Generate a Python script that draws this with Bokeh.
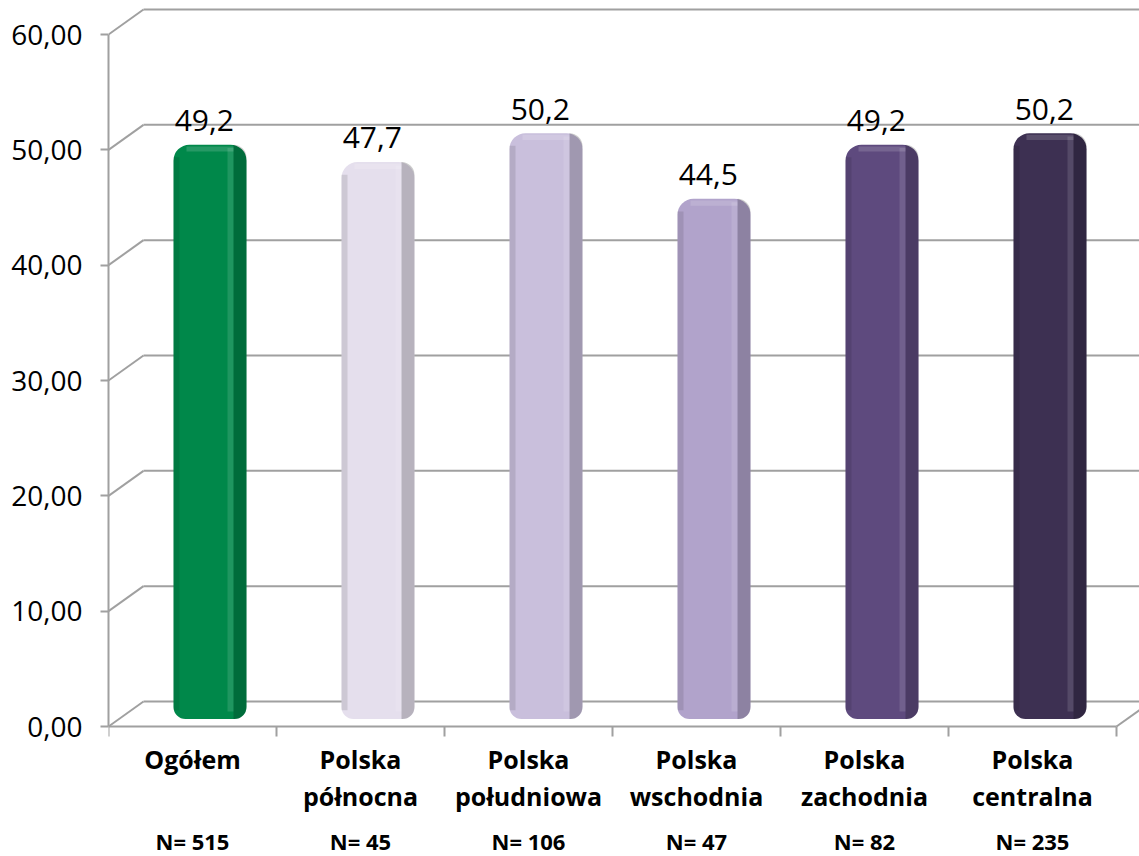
from bokeh.plotting import figure
from bokeh.models import Range1d, LinearAxis, FixedTicker, ColumnDataSource
from bokeh.core.properties import value
from bokeh.embed import file_html
from bokeh.resources import INLINE

# ---------------- data ----------------
categories = ["Ogółem", "Polska północna", "Polska południowa",
              "Polska wschodnia", "Polska zachodnia", "Polska centralna"]
category_labels = ["Ogółem", "Polska\npółnocna", "Polska\npołudniowa",
                   "Polska\nwschodnia", "Polska\nzachodnia", "Polska\ncentralna"]
sample_sizes = ["N= 515", "N= 45", "N= 106", "N= 47", "N= 82", "N= 235"]
values = [49.2, 47.7, 50.2, 44.5, 49.2, 50.2]
bar_colors = ["#00884A", "#E5DFED", "#C9BFDC", "#B1A3CB", "#5E4A7E", "#3D3052"]
y_ticks = [0, 10, 20, 30, 40, 50, 60]
y_tick_labels = ["0,00", "10,00", "20,00", "30,00", "40,00", "50,00", "60,00"]

# ---------------- geometry (pseudo 3-D) ----------------
W, H = 1139, 856
LEFT = 108
ZERO_PX = 726          # canvas y of value 0 on the front plane
PX_X = 168.0           # px per category
PX_Y = 11.533          # px per value unit
DEPTH_X = 35 / PX_X    # depth shift of the back wall
DEPTH_Y = 25 / PX_Y
x_end = (W - LEFT) / PX_X
y_end = ZERO_PX / PX_Y
y_start = -(H - ZERO_PX) / PX_Y
n = len(categories)
GRID = "#A0A0A0"

p = figure(width=W, height=H, output_backend="svg", toolbar_location=None,
           x_range=Range1d(0, x_end), y_range=Range1d(y_start, y_end),
           x_axis_location=None, y_axis_location=None,
           min_border_left=LEFT, min_border_bottom=0,
           min_border_top=0, min_border_right=0)
p.outline_line_color = None
p.grid.visible = False
p.background_fill_color = "white"
p.border_fill_color = "white"

# back-wall gridlines and side diagonals
p.segment(x0=[0] * len(y_ticks), y0=y_ticks,
          x1=[DEPTH_X] * len(y_ticks), y1=[t + DEPTH_Y for t in y_ticks],
          line_color=GRID, line_width=2)
p.segment(x0=[DEPTH_X] * len(y_ticks), y0=[t + DEPTH_Y for t in y_ticks],
          x1=[x_end + 1] * len(y_ticks), y1=[t + DEPTH_Y for t in y_ticks],
          line_color=GRID, line_width=2)
# right floor edge
p.segment(x0=[n], y0=[0], x1=[n + DEPTH_X], y1=[DEPTH_Y],
          line_color=GRID, line_width=2)

# ---------------- bars ----------------
bar_w = 73 / PX_X
cx = [i + 0.5 + DEPTH_X / 2 for i in range(n)]
tops = [v + 1.25 for v in values]
bottom = 0.65
src = ColumnDataSource(dict(x=cx, top=tops, color=bar_colors))
p.vbar(x="x", top="top", bottom=bottom, width=bar_w, fill_color="color",
       line_color=None, source=src, border_radius=(16, 16, 12, 12))
# left darker edge
p.vbar(x=[c - bar_w / 2 + 3 / PX_X for c in cx], top=[t - 1.1 for t in tops],
       bottom=1.4, width=6 / PX_X, fill_color="black", fill_alpha=0.10,
       line_color=None)
# right shaded side
strip = 13 / PX_X
p.vbar(x=[c + bar_w / 2 - strip / 2 for c in cx], top=tops, bottom=bottom,
       width=strip, fill_color="black", fill_alpha=0.20, line_color=None,
       border_radius=(0, 13, 12, 0))
# soft highlight band
p.vbar(x=[c + bar_w / 2 - strip - 3 / PX_X for c in cx], top=[t - 0.3 for t in tops],
       bottom=1.3, width=6 / PX_X, fill_color="white", fill_alpha=0.12,
       line_color=None)
# top rim highlight
p.vbar(x=cx, top=[t - 0.15 for t in tops], bottom=[t - 0.6 for t in tops],
       width=bar_w - 26 / PX_X, fill_color="white", fill_alpha=0.15,
       line_color=None)

# value labels
p.text(x=[i + 0.57 for i in range(n)], y=[t + 24 / PX_Y for t in tops],
       text=[f"{v:.1f}".replace(".", ",") for v in values],
       text_align="center", text_baseline="alphabetic",
       text_font=value("Open Sans"), text_font_size="30px", text_color="#000000")

# ---------------- axes ----------------
yaxis = LinearAxis(ticker=FixedTicker(ticks=y_ticks),
                   major_label_overrides={t: l for t, l in zip(y_ticks, y_tick_labels)},
                   bounds=(0, 60), axis_line_color=GRID, axis_line_width=2,
                   major_tick_out=8, major_tick_in=0, major_tick_line_color=GRID,
                   major_tick_line_width=2, minor_tick_line_color=None,
                   major_label_standoff=18, major_label_text_font="Open Sans",
                   major_label_text_font_size="28px", major_label_text_color="#000000")
p.add_layout(yaxis, "left")

centers = [i + 0.5 for i in range(n)]
xaxis = LinearAxis(fixed_location=0,
                   ticker=FixedTicker(ticks=centers, minor_ticks=list(range(n + 1))),
                   major_label_overrides={c: l for c, l in zip(centers, category_labels)},
                   bounds=(0, n), axis_line_color=GRID, axis_line_width=2,
                   major_tick_line_color=None, major_tick_out=10, major_tick_in=0,
                   minor_tick_out=10, minor_tick_in=0, minor_tick_line_color=GRID,
                   minor_tick_line_width=2, major_label_standoff=5,
                   major_label_text_font="Open Sans", major_label_text_font_style="bold",
                   major_label_text_font_size="25px", major_label_text_color="#000000",
                   major_label_text_line_height=1.1)
p.add_layout(xaxis, "below")

naxis = LinearAxis(fixed_location=0, ticker=FixedTicker(ticks=centers),
                   major_label_overrides={c: l for c, l in zip(centers, sample_sizes)},
                   axis_line_color=None, major_tick_line_color=None,
                   major_tick_out=0, major_tick_in=0, minor_tick_line_color=None,
                   major_label_standoff=99, major_label_text_font="Open Sans",
                   major_label_text_font_style="bold", major_label_text_font_size="22px",
                   major_label_text_color="#000000")
p.add_layout(naxis, "below")

open("out.html", "w").write(file_html(p, INLINE))
